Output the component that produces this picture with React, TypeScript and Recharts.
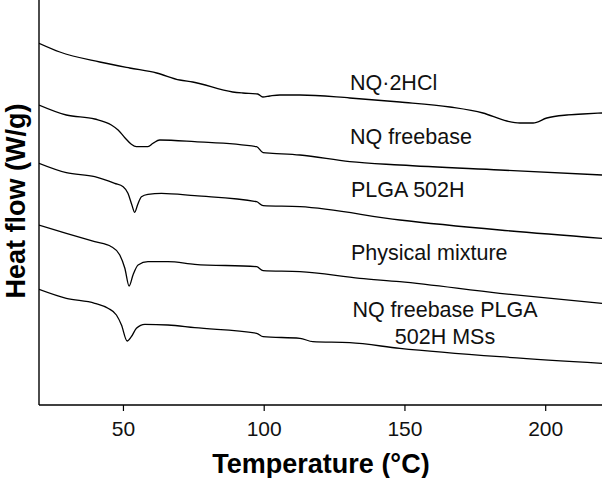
import React from 'react';
import { LineChart, Line, XAxis, YAxis, Customized } from 'recharts';

// Temperature (°C) / heat flow (arbitrary units, offset per curve) pairs
const nq2hcl: [number, number][] = [
  [20, 361.7], [27.4, 353], [41.6, 343], [52.2, 337], [61.8, 332], [70, 325], [74.6, 323],
  [88.8, 313], [92.4, 312], [97.7, 311], [99.5, 308], [102, 309], [105.6, 310], [112.7, 310],
  [130.4, 307], [148.2, 303], [166, 298], [177.7, 292], [186.2, 284], [190.8, 282], [195.5, 282],
  [200.4, 287], [207.5, 290], [213.2, 291], [220, 292],
];
const nqFreebase: [number, number][] = [
  [20, 300], [29.7, 290], [39.8, 286], [45.7, 280], [48.1, 275], [50.5, 267.3], [52.8, 260.7],
  [54.6, 258.3], [58.7, 258.3], [60.5, 261.7], [62.9, 265], [75.3, 263.3], [97.3, 258.3],
  [99.6, 252.3], [103, 251.7], [112.7, 250], [130.4, 243.3], [148.2, 240], [183.7, 235], [220, 230],
];
const plga502h: [number, number][] = [
  [20, 241.7], [29.7, 232.3], [39.8, 228.3], [46.9, 221.7], [49.9, 218.3], [51.6, 211.7],
  [53, 200], [54, 192.7], [55, 200], [56.4, 208.3], [58.7, 210.7], [63.5, 211.7], [75.3, 209.3],
  [97.3, 203.3], [99.6, 199.3], [112.7, 198.3], [148.2, 185], [183.7, 175], [220, 166.7],
];
const physicalMixture: [number, number][] = [
  [20, 180], [29.7, 171.7], [39.8, 163.3], [45.7, 158.3], [48.7, 150], [50.5, 136.7], [52, 119],
  [53.4, 130], [55.2, 140], [58.7, 143.3], [65.8, 143.3], [75.3, 140.7], [97.3, 138.3],
  [99.6, 134.3], [112.7, 133.3], [134, 126.7], [148.2, 123.3], [183.7, 111.7], [220, 101.7],
];
const msCurve: [number, number][] = [
  [20, 115.7], [29.7, 106.7], [39.8, 101.7], [44.5, 96.7], [47.5, 90], [49.3, 80], [51.3, 64],
  [52.8, 68.3], [54.6, 76.7], [57.6, 80.7], [65.8, 80], [75.3, 77.3], [97.3, 71.7], [99.6, 68.3],
  [112.7, 66.7], [117.3, 63.3], [130.4, 62.3], [148.2, 56.7], [183.7, 48.3], [220, 41.7],
];

const xTicks = [50, 100, 150, 200];
const seriesNames = ['NQ·2HCl', 'NQ freebase', 'PLGA 502H', 'Physical mixture', 'NQ freebase PLGA', '502H MSs'];

const toRows = (arr: [number, number][]) => arr.map(([t, v]) => ({ t, v }));
const allSeries = [nq2hcl, nqFreebase, plga502h, physicalMixture, msCurve].map(toRows);

const FONT = '"Liberation Sans", Arial, Helvetica, sans-serif';

const labelPos = [
  { x: 350, y: 90, anchor: 'start' },
  { x: 350, y: 144, anchor: 'start' },
  { x: 351, y: 197, anchor: 'start' },
  { x: 351, y: 260, anchor: 'start' },
  { x: 445, y: 317, anchor: 'middle' },
  { x: 445, y: 344, anchor: 'middle' },
];

const Labels = () => (
  <g>
    {seriesNames.map((name, i) => (
      <text
        key={name}
        x={labelPos[i].x}
        y={labelPos[i].y}
        textAnchor={labelPos[i].anchor as any}
        fontSize={21.5}
        fontFamily={FONT}
        fill="#111"
      >
        {name}
      </text>
    ))}
    <text
      x={321}
      y={473}
      textAnchor="middle"
      fontSize={27}
      fontWeight="bold"
      fontFamily={FONT}
      fill="#000"
    >
      Temperature (°C)
    </text>
    <text
      x={0}
      y={0}
      transform="translate(25,201) rotate(-90)"
      textAnchor="middle"
      fontSize={27}
      fontWeight="bold"
      fontFamily={FONT}
      fill="#000"
    >
      Heat flow (W/g)
    </text>
  </g>
);

export default function App() {
  return (
    <div style={{ position: 'absolute', left: 0, top: 0, width: 603, height: 478, background: '#fff' }}>
      <LineChart width={603} height={478} margin={{ top: 0, right: 1, left: 0, bottom: 0 }}>
        <XAxis
          dataKey="t"
          type="number"
          domain={[20, 220]}
          ticks={xTicks}
          allowDataOverflow
          height={73}
          tickSize={6}
          tickMargin={10}
          tick={{ fontSize: 21, fill: '#111', fontFamily: FONT }}
          axisLine={{ stroke: '#000', strokeWidth: 1.4 }}
          tickLine={{ stroke: '#000', strokeWidth: 1.2 }}
        />
        <YAxis
          type="number"
          domain={[0, 405]}
          allowDataOverflow
          width={39}
          tick={false}
          tickLine={false}
          axisLine={{ stroke: '#000', strokeWidth: 1.4 }}
        />
        {allSeries.map((rows, i) => (
          <Line
            key={i}
            data={rows}
            dataKey="v"
            type="monotone"
            stroke="#000"
            strokeWidth={1.3}
            dot={false}
            isAnimationActive={false}
          />
        ))}
        <Customized component={Labels} />
      </LineChart>
    </div>
  );
}
